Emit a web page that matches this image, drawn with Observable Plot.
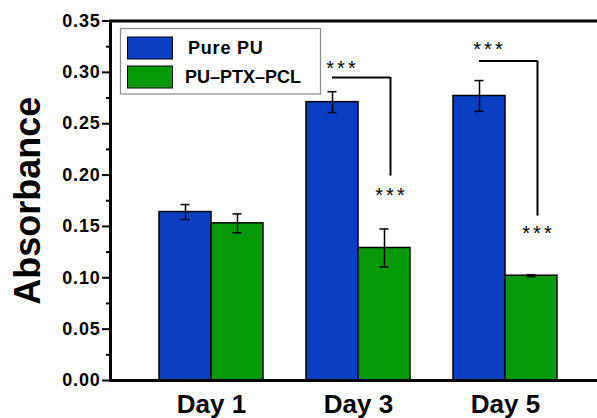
<!DOCTYPE html>
<html><head><meta charset="utf-8">
<script src="https://cdn.jsdelivr.net/npm/d3@7"></script>
<script src="https://cdn.jsdelivr.net/npm/@observablehq/plot@0.6"></script>
<style>
html,body{margin:0;padding:0;background:#fff;overflow:hidden;}
#chart{position:relative;width:597px;height:418px;}
.ytick text{letter-spacing:0.8px;}
.stars text{letter-spacing:3px;}
</style></head><body><div id="chart"></div>
<script>
// ---- data ----
const days = ["Day 1", "Day 3", "Day 5"];
const seriesNames = ["Pure PU", "PU–PTX–PCL"];
const seriesColors = ["#0a3fc4", "#079a07"];
const purePU = [0.164, 0.271, 0.277];
const purePUErr = [0.0073, 0.0102, 0.015];
const ptxPCL = [0.153, 0.129, 0.102];
const ptxPCLErr = [0.0092, 0.0185, 0.001];
const yTicks = [0, 0.05, 0.10, 0.15, 0.20, 0.25, 0.30, 0.35];
const yMinorTicks = [0.025, 0.075, 0.125, 0.175, 0.225, 0.275, 0.325];
const yLabel = "Absorbance";
const sigDays = ["Day 3", "Day 5"];
const sigBracketTop = [0.295, 0.311];
const sigBracketBottom = [0.199, 0.160];
const sigUpperStar = [0.307, 0.325];
const sigLowerStar = [0.183, 0.146];
const sigLabel = "***";

// ---- tables ----
const pureRows = days.map((d, i) => ({day: d, value: purePU[i], err: purePUErr[i]}));
const ptxRows = days.map((d, i) => ({day: d, value: ptxPCL[i], err: ptxPCLErr[i]}));
const sigRows = sigDays.map((d, i) => ({day: d, top: sigBracketTop[i], bottom: sigBracketBottom[i], up: sigUpperStar[i], low: sigLowerStar[i]}));

// ---- layout ----
const W = 597, H = 418;
const xRange = [110, 606];
const pIn = 0.295, pOut = 0.329;
const step = (xRange[1] - xRange[0]) / (days.length - pIn + 2 * pOut);
const bw = step * (1 - pIn);
const half = bw / 2, quarter = bw / 4;
const capW = 9;
const capInset = (half - capW) / 2;
const font = "Liberation Sans, Arial, Helvetica, sans-serif";

const errMarks = (rows, off) => [
  Plot.ruleX(rows, {x: "day", y1: d => d.value - d.err, y2: d => d.value + d.err, dx: off, strokeWidth: 1.5}),
  Plot.tickY(rows, {x: "day", y: d => d.value + d.err, dx: off, insetLeft: half / 2 + capInset, insetRight: half / 2 + capInset, strokeWidth: 1.5}),
  Plot.tickY(rows, {x: "day", y: d => d.value - d.err, dx: off, insetLeft: half / 2 + capInset, insetRight: half / 2 + capInset, strokeWidth: 1.5})
];

const svg = Plot.plot({
  width: W, height: H,
  marginLeft: 110, marginRight: 0, marginTop: 20.5, marginBottom: 38,
  style: {fontFamily: font, color: "black", background: "white"},
  x: {type: "band", domain: days, range: xRange, paddingInner: pIn, paddingOuter: pOut, label: null, axis: null},
  y: {domain: [0, 0.35], label: null, axis: null},
  marks: [
    Plot.barY(pureRows, {x: "day", y: "value", fill: seriesColors[0], stroke: "black", strokeWidth: 1.5, insetRight: half}),
    Plot.barY(ptxRows, {x: "day", y: "value", fill: seriesColors[1], stroke: "black", strokeWidth: 1.5, insetLeft: half}),
    ...errMarks(pureRows, -quarter),
    ...errMarks(ptxRows, quarter),
    Plot.tickY(sigRows, {x: "day", y: "top", insetLeft: quarter, insetRight: quarter - 6, strokeWidth: 2}),
    Plot.ruleX(sigRows, {x: "day", y1: "top", y2: "bottom", dx: quarter + 6, strokeWidth: 2}),
    Plot.text(sigRows, {x: "day", y: "up", text: () => sigLabel, dx: -quarter + 10, dy: 3, fontSize: 20, className: "stars"}),
    Plot.text(sigRows, {x: "day", y: "low", text: () => sigLabel, dx: quarter + 7, dy: 3, fontSize: 20, className: "stars"}),
    Plot.frame({strokeWidth: 3, insetRight: -6}),
    Plot.axisY(yTicks, {tickSize: 8, tickPadding: 2, strokeWidth: 2, fontSize: 18, fontWeight: "bold", tickFormat: d3.format(".2f"), label: null, className: "ytick"}),
    Plot.axisY(yMinorTicks, {tickSize: 4, strokeWidth: 2, tickFormat: () => "", label: null}),
    Plot.axisX(days, {tickSize: 0, tickPadding: 14.5, fontSize: 26, fontWeight: "bold", label: null}),
    Plot.text([yLabel], {frameAnchor: "left", textAnchor: "middle", rotate: -90, dx: -82, fontSize: 36, fontWeight: "bold"})
  ]
});

// ---- legend (inside plot, top-left) ----
const g = d3.select(svg).append("g").attr("font-family", font).attr("text-anchor", "start");
g.append("rect").attr("x", 120.5).attr("y", 28.5).attr("width", 200).attr("height", 65.5)
  .attr("fill", "white").attr("stroke", "#8a8a8a").attr("stroke-width", 1.2);
seriesNames.forEach((name, i) => {
  const y0 = 37 + i * 29;
  g.append("rect").attr("x", 127.5).attr("y", y0).attr("width", 45).attr("height", 22)
    .attr("fill", seriesColors[i]).attr("stroke", "black").attr("stroke-width", 1);
  g.append("text").attr("x", i === 0 ? 188 : 185).attr("y", y0 + 11).attr("dy", "0.35em")
    .attr("text-anchor", "start")
    .attr("font-size", 18).attr("font-weight", "bold").attr("fill", "black")
    .attr("letter-spacing", i === 0 ? "0.8px" : "0px").text(name);
});

document.getElementById("chart").appendChild(svg);
</script></body></html>
